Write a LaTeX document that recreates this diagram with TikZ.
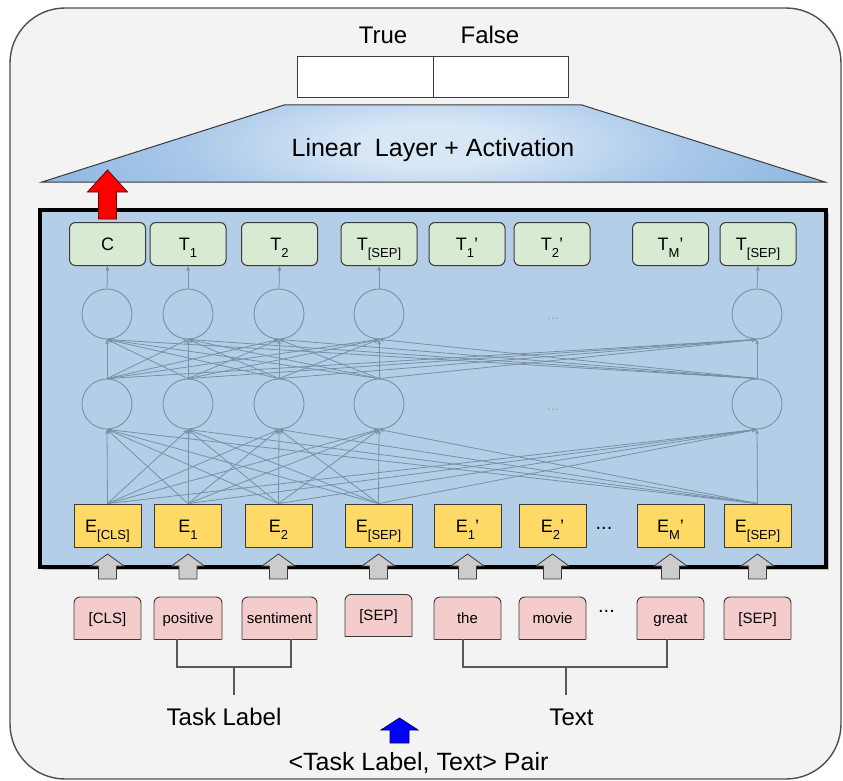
\documentclass[tikz,border=0pt]{standalone}
\usepackage{fontspec}
\setmainfont{Liberation Sans}
\usetikzlibrary{arrows.meta,calc}
\definecolor{bgc}{HTML}{F3F3F3}
\definecolor{boxblue}{HTML}{B4CEE7}
\definecolor{tgreen}{HTML}{D9EAD3}
\definecolor{eyellow}{HTML}{FFD966}
\definecolor{ppink}{HTML}{F4CCCC}
\definecolor{netc}{HTML}{7890A6}
\definecolor{edge}{HTML}{3A3A3A}
\definecolor{trapin}{HTML}{D8E7F6}
\definecolor{trapmid}{HTML}{A9C8E9}
\definecolor{trapout}{HTML}{6A9FD5}
\pgfdeclareradialshading{trapshade}{\pgfpoint{0bp}{0bp}}{color(0bp)=(trapin); color(5bp)=(trapin); color(16bp)=(trapmid); color(40bp)=(trapout); color(50bp)=(trapout)}
\newcommand\sbs[1]{\smash{\raisebox{-7pt}{\fontsize{13}{13}\selectfont #1}}}
\newcommand\pbox[5]{%
  \filldraw[pshape] ({#2-#4},{#3+21}) -- ({#2-#4},{#3-21}) -- ({#2+#4},{#3-21}) -- ({#2+#4},{#3+21});
  \draw[draw=edge, line width=0.9pt] ({#2-#4},{#3+21}) -- ({#2+#4},{#3+21});
  \node[ptext, minimum width={2*#4}] (#1) at (#2,#3) {#5};
}
\newcommand\blockarrow[7]{%
  \filldraw[#7] (#1,#2) -- ({#1+#5},#3) -- ({#1+#6},#3) -- ({#1+#6},#4) -- ({#1-#6},#4) -- ({#1-#6},#3) -- ({#1-#5},#3) -- cycle;
}
\begin{document}
\begin{tikzpicture}[x=1pt,y=-1pt,
  tbox/.style={draw=edge, line width=1pt, fill=tgreen, rounded corners=6pt, minimum width=76pt, minimum height=43pt, inner sep=0pt, font=\fontsize{18}{18}\selectfont, text height=13pt, text depth=0pt},
  ebox/.style={draw=edge, line width=0.9pt, fill=eyellow, minimum width=67pt, minimum height=43pt, inner sep=0pt, font=\fontsize{18}{18}\selectfont, text height=13pt, text depth=0pt},
  neuron/.style={circle, draw=netc, line width=0.9pt, minimum size=50pt, inner sep=0pt},
  conn/.style={draw=netc, line width=0.8pt, -{Stealth[length=5pt,width=4pt]}},
  ptext/.style={font=\fontsize{15}{15}\selectfont, text height=10.7pt, text depth=0pt, inner sep=0pt, minimum height=42pt},
  pshape/.style={draw=edge, line width=0.9pt, fill=ppink, rounded corners=6pt},
  bigtext/.style={font=\fontsize{24}{24}\selectfont, inner sep=0pt, text depth=0pt},
  brk/.style={draw=edge!85, line width=1.1pt},
  garrow/.style={fill=black!20, draw=edge, line width=0.8pt}
]
\useasboundingbox (0,0) rectangle (843,781);
\draw[draw=edge!90, line width=1.4pt, fill=bgc, rounded corners=55pt] (10,8) rectangle (841,779);

% output
\node[draw=edge, line width=1pt, fill=white, minimum width=136pt, minimum height=41pt, inner sep=0pt] (otrue) at (365,77.5) {};
\node[draw=edge, line width=1pt, fill=white, minimum width=135pt, minimum height=41pt, inner sep=0pt] (ofalse) at (500.5,77.5) {};
\node[bigtext] (ltrue) at (383,35) {True};
\node[bigtext] (lfalse) at (490,35) {False};

% linear layer
\begin{scope}
\clip (42,182) -- (284,105) -- (582,105) -- (825,182) -- cycle;
\shade[shading=trapshade] (42,40) rectangle (825,250);
\end{scope}
\draw[edge, line width=1pt] (42,182) -- (284,105) -- (582,105) -- (825,182) -- cycle;
\node[font=\fontsize{25}{25}\selectfont, inner sep=0pt, text depth=0pt] (lin) at (433,147) {Linear\ \ Layer + Activation};

% main box
\fill[black!25] (43,213) rectangle (829,570);
\draw[line width=4pt, fill=boxblue] (40,210) rectangle (826,567);
\blockarrow{107.5}{170}{192}{219}{20}{9}{fill=red, draw=red!40!black, line width=0.8pt}

% T row
\node[tbox] (tc) at (107.5,244) {C};
\node[tbox] (t1) at (188,244) {T\sbs{1}};
\node[tbox] (t2) at (279.5,244) {T\sbs{2}};
\node[tbox] (tsep) at (379,244) {T\sbs{[SEP]}};
\node[tbox] (t1p) at (467,244) {T\sbs{1}'};
\node[tbox] (t2p) at (552,244) {T\sbs{2}'};
\node[tbox] (tmp) at (670.5,244) {T\sbs{M}'};
\node[tbox] (tsep2) at (758,244) {T\sbs{[SEP]}};

% neurons
\node[neuron] (u1) at (107,314) {};
\node[neuron] (u2) at (188,314) {};
\node[neuron] (u3) at (279,314) {};
\node[neuron] (u4) at (379,314) {};
\node[neuron] (u5) at (757,314) {};
\node[neuron] (l1) at (107,404) {};
\node[neuron] (l2) at (188,404) {};
\node[neuron] (l3) at (279,404) {};
\node[neuron] (l4) at (379,404) {};
\node[neuron] (l5) at (757,404) {};
\node[font=\fontsize{14}{14}\selectfont, text=netc!80] (dotsu) at (553,319) {...};
\node[font=\fontsize{14}{14}\selectfont, text=netc!80] (dotsl) at (553,410) {...};

% E row
\node[ebox] (ecls) at (107.5,525.5) {E\sbs{[CLS]}};
\node[ebox] (e1) at (188,525.5) {E\sbs{1}};
\node[ebox] (e2) at (278.5,525.5) {E\sbs{2}};
\node[ebox] (esep) at (378.5,525.5) {E\sbs{[SEP]}};
\node[ebox] (e1p) at (467.5,525.5) {E\sbs{1}'};
\node[ebox] (e2p) at (552.5,525.5) {E\sbs{2}'};
\node[ebox] (emp) at (670.5,525.5) {E\sbs{M}'};
\node[ebox] (esep2) at (757.5,525.5) {E\sbs{[SEP]}};
\node[font=\fontsize{20}{20}\selectfont, inner sep=0pt] (edots) at (604,528) {...};

% connections
\foreach \s in {l1,l2,l3,l4,l5}{
  \foreach \t in {u1,u2,u3,u4,u5}{
    \draw[conn] (\s.north) -- (\t.south);}}
\foreach \s in {ecls,e1,e2,esep,esep2}{
  \foreach \t in {l1,l2,l3,l4,l5}{
    \draw[conn] (\s.north) -- (\t.south);}}
\draw[conn] (u1.north) -- (tc.south);
\draw[conn] (u2.north) -- (t1.south);
\draw[conn] (u3.north) -- (t2.south);
\draw[conn] (u4.north) -- (tsep.south);
\draw[conn] (u5.north) -- (tsep2.south);

% gray input arrows
\foreach \x in {107.5,188,278.5,378.5,467.5,552.5,670.5,757.5}{
  \blockarrow{\x}{554}{566}{579}{16.5}{9}{garrow}}

% tokens
\pbox{pcls}{107.5}{618}{33.5}{[CLS]}
\pbox{ppos}{188}{618}{34}{positive}
\pbox{psent}{279.5}{618}{37.5}{sentiment}
\pbox{psep}{378.5}{615.5}{33.5}{[SEP]}
\pbox{pthe}{467.5}{618}{33.5}{the}
\pbox{pmovie}{552.5}{618}{33.5}{movie}
\pbox{pgreat}{670.5}{618}{33.5}{great}
\pbox{psep2}{757.5}{618}{33.5}{[SEP]}
\node[font=\fontsize{20}{20}\selectfont, inner sep=0pt] (pdots) at (606.5,611) {...};

% brackets
\coordinate (tlj) at (234,667);
\coordinate (tle) at (234,695);
\draw[brk] ([xshift=-11pt]ppos.south) |- (tlj) -| ([xshift=11.5pt]psent.south);
\draw[brk] (tlj) -- (tle);
\coordinate (txj) at (566,667);
\coordinate (txe) at (566,695);
\draw[brk] ([xshift=-4.5pt]pthe.south) |- (txj) -| ([xshift=-3.5pt]pgreat.south);
\draw[brk] (txj) -- (txe);

\node[bigtext] (tasklbl) at (224,717) {Task Label};
\node[bigtext] (textlbl) at (571.5,717) {Text};
\blockarrow{399.5}{718}{730}{743}{18.5}{9.5}{fill=blue, draw=blue!40!black, line width=0.8pt}
\node[font=\fontsize{25}{25}\selectfont, inner sep=0pt, text depth=0pt] (pair) at (418.5,761) {<Task Label, Text> Pair};
\end{tikzpicture}
\end{document}
